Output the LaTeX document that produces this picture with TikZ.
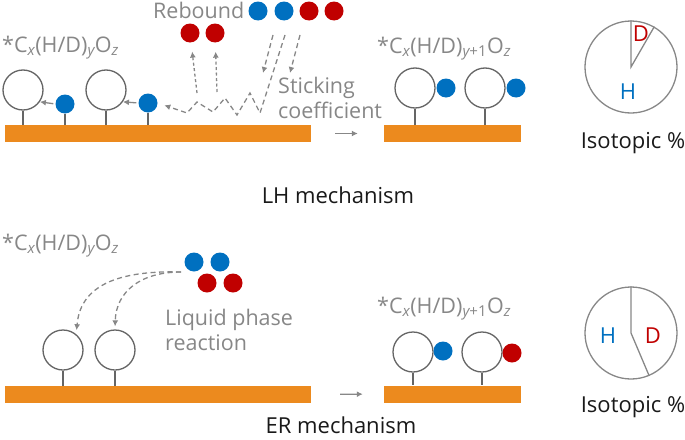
\documentclass[tikz,border=0pt]{standalone}
\usepackage{fontspec}
\setmainfont{Open Sans}
\usepackage{xcolor}
\usetikzlibrary{positioning,arrows.meta}

\definecolor{surf}{HTML}{EC8A1E}
\definecolor{hblue}{HTML}{0070C0}
\definecolor{dred}{HTML}{C00000}
\definecolor{lgray}{HTML}{878787}
\definecolor{dgray}{HTML}{656565}
\newcommand{\formula}[1]{*C\textsubscript{\itshape x}(H/D)\textsubscript{#1}O\textsubscript{\itshape z}}

\begin{document}
\begin{tikzpicture}[x=1pt, y=-1pt,
  bar/.style={fill=surf, minimum height=17pt, inner sep=0pt},
  mol/.style={draw=dgray, circle, line width=1.3pt, minimum size=40pt, inner sep=0pt},
  hdot/.style={fill=hblue, circle, minimum size=19pt, inner sep=0pt},
  ddot/.style={fill=dred, circle, minimum size=19pt, inner sep=0pt},
  stem/.style={draw=dgray, line width=1.3pt},
  lbl/.style={text=lgray, font=\fontsize{21.5}{25}\selectfont, inner sep=0pt},
  ttl/.style={text=black!90, font=\fontsize{22}{26}\selectfont, inner sep=0pt},
  pie/.style={draw=lgray, circle, line width=1.3pt, minimum size=92pt, inner sep=0pt},
  arrow/.style={draw=lgray, line width=1.3pt, -{Latex[length=6pt,width=6pt]}},
  dotarrow/.style={arrow, dash pattern=on 3pt off 2.5pt},
  dasharrow/.style={arrow, dash pattern=on 5pt off 3.5pt}
]
  \useasboundingbox (0,0) rectangle (685,439);

  % LH mechanism, left
  \node[bar, minimum width=306pt] (barA) at (158,133.5) {};
  \node[lbl, anchor=base west] (fA) at (2,52) {\formula{\itshape y}};
  \node[mol] (a1) at (23,90) {};
  \node[mol] (a2) at (106,90) {};
  \node[hdot] (ha1) at (65,104) {};
  \node[hdot] (ha2) at (148,103) {};
  \foreach \n in {a1,a2,ha1,ha2}
    \draw[stem] (\n.south) -- (\n.south |- barA.north);
  \draw[arrow, shorten <=2pt] (ha1.west) -- (a1.-35);
  \draw[arrow, shorten <=2pt] (ha2.west) -- (a2.-35);

  % Rebound
  \node[lbl, anchor=base west] (reb) at (153,18) {Rebound};
  \node[hdot] (r1) at (258,11) {};
  \node[hdot] (r2) at (284,11) {};
  \node[ddot] (r3) at (309,11) {};
  \node[ddot] (r4) at (334,11) {};
  \node[ddot] (rr1) at (190,33) {};
  \node[ddot] (rr2) at (215,33) {};
  \coordinate (rb1) at (197,93);
  \coordinate (rb2) at (217,92);
  \draw[dotarrow, shorten >=9pt] (rb1) -- (rr1);
  \draw[dotarrow, shorten >=9pt] (rb2) -- (rr2);

  % Sticking
  \coordinate (inA) at (273,35);
  \coordinate (tipA) at (263,73);
  \coordinate (inB) at (300,35);
  \coordinate (tipB) at (290,73);
  \coordinate (inC) at (285,35);
  \draw[dasharrow] (inA) -- (tipA);
  \draw[dasharrow] (inB) -- (tipB);
  \draw[dasharrow, shorten >=7pt] (inC) -- (260,113) -- (250,93) -- (237,115) -- (225,98)
    -- (213,112) -- (197,102) -- (187,113) -- (ha2.east);
  \node[lbl, align=left, anchor=base west] (stick) at (278,118) {Sticking\\coefficient};

  % LH mechanism, right
  \node[bar, minimum width=137pt] (barB) at (452.5,133.5) {};
  \draw[arrow, shorten <=24pt, shorten >=26pt] (barA.east) -- (barB.west);
  \node[lbl, anchor=base west] (fB) at (377,53) {\formula{\itshape y\upshape +1}};
  \node[mol] (b1) at (415,88) {};
  \node[mol] (b2) at (485,88) {};
  \node[hdot] (hb1) at (446,88) {};
  \node[hdot] (hb2) at (516,88) {};
  \foreach \n in {b1,b2}
    \draw[stem] (\n.south) -- (\n.south |- barB.north);

  % Isotopic %, LH
  \node[pie] (pieA) at (631,67) {};
  \draw[draw=lgray, line width=1.3pt] (pieA.north) -- (pieA.center) -- (pieA.60);
  \node[ttl, text=dred] (dA) at (641,34) {D};
  \node[ttl, text=hblue] (hA) at (628,92) {H};
  \node[ttl, anchor=base] (isoA) at (633,148) {Isotopic \%};

  \node[ttl, anchor=base] (lh) at (338,203) {LH mechanism};

  % ER mechanism, left
  \node[bar, minimum width=306pt] (barC) at (158,394.5) {};
  \node[lbl, anchor=base west] (fC) at (2,250) {\formula{\itshape y}};
  \node[mol] (c1) at (63,350) {};
  \node[mol] (c2) at (115,350) {};
  \foreach \n in {c1,c2}
    \draw[stem] (\n.south) -- (\n.south |- barC.north);
  \node[hdot] (l1) at (194,262) {};
  \node[hdot] (l2) at (220,262) {};
  \node[ddot] (l3) at (207,283) {};
  \node[ddot] (l4) at (233,283) {};
  \coordinate (liq) at (181,272);
  \draw[dasharrow, shorten >=4pt] (liq) .. controls (110,270) and (80,290) .. (c1.50);
  \draw[dasharrow, shorten >=3pt] (liq) .. controls (140,272) and (116,292) .. (c2.north);
  \node[lbl, align=left, anchor=base west] (liqtxt) at (165,350) {Liquid phase\\reaction};

  % ER mechanism, right
  \node[bar, minimum width=137pt] (barD) at (452.5,394) {};
  \draw[arrow, shorten <=29pt, shorten >=21pt] (barC.east) -- (barD.west);
  \node[lbl, anchor=base west] (fD) at (377,313) {\formula{\itshape y\upshape +1}};
  \node[mol] (d1) at (413,352) {};
  \node[mol] (d2) at (482,352) {};
  \node[hdot] (hd1) at (443,351) {};
  \node[ddot] (dd2) at (512,353) {};
  \foreach \n in {d1,d2}
    \draw[stem] (\n.south) -- (\n.south |- barD.north);

  % Isotopic %, ER
  \node[pie] (pieB) at (631,333) {};
  \draw[draw=lgray, line width=1.3pt] (pieB.north) -- (pieB.center) -- (pieB.-67);
  \node[ttl, text=hblue] (hB) at (608,336) {H};
  \node[ttl, text=dred] (dB) at (653,336) {D};
  \node[ttl, anchor=base] (isoB) at (633,412) {Isotopic \%};

  \node[ttl, anchor=base] (er) at (341,433) {ER mechanism};
\end{tikzpicture}
\end{document}
